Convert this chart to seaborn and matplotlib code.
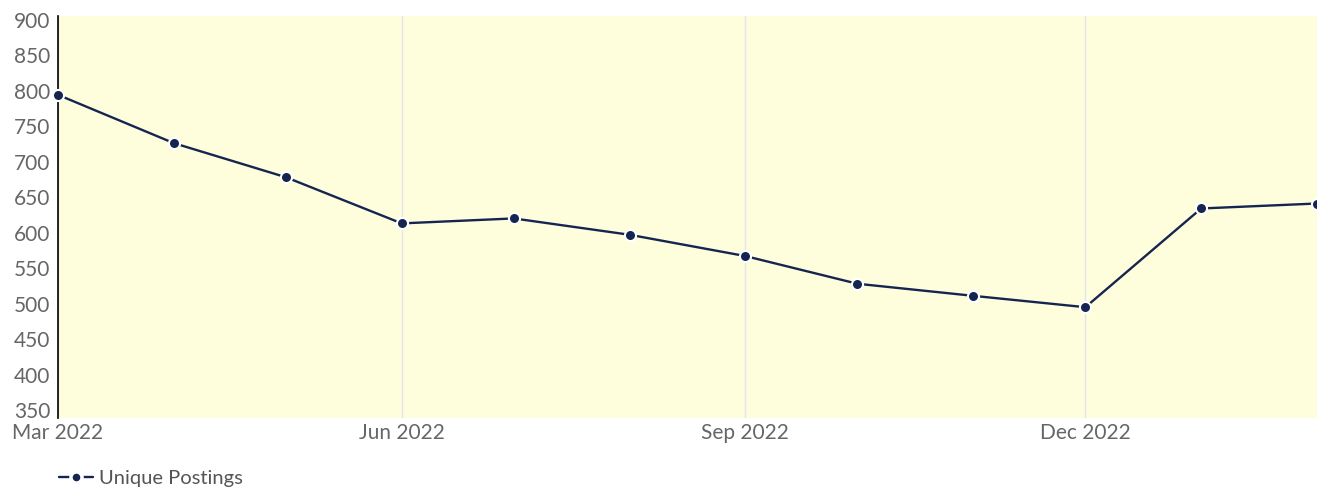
import matplotlib
matplotlib.use("Agg")
import matplotlib.pyplot as plt
import seaborn as sns
import pandas as pd

months = ["2022-03-01", "2022-04-01", "2022-05-01", "2022-06-01", "2022-07-01", "2022-08-01",
          "2022-09-01", "2022-10-01", "2022-11-01", "2022-12-01", "2023-01-01", "2023-02-01"]
unique_postings = [794, 726, 678, 613, 620, 597, 567, 528, 511, 495, 634, 641]
series_name = "Unique Postings"
y_ticks = [350, 400, 450, 500, 550, 600, 650, 700, 750, 800, 850, 900]
x_tick_dates = ["2022-03-01", "2022-06-01", "2022-09-01", "2022-12-01"]
x_tick_labels = ["Mar 2022", "Jun 2022", "Sep 2022", "Dec 2022"]

sns.set_theme(style="white")
plt.rcParams["font.family"] = ["Lato", "DejaVu Sans"]

df = pd.DataFrame({"date": pd.to_datetime(months), "value": unique_postings,
                   "series": series_name})

fig = plt.figure(figsize=(13.17, 4.94), dpi=100)
ax = fig.add_axes([58 / 1317, 76 / 494, 1 - 58 / 1317, 402 / 494])
ax.set_facecolor("#fefedd")

line_color = "#15254f"
sns.lineplot(data=df, x="date", y="value", hue="series", palette=[line_color],
             marker="o", markersize=8, markeredgecolor="white", markeredgewidth=1.5,
             linewidth=1.7, ax=ax, clip_on=False, zorder=5)

ax.set_xlim(pd.Timestamp(months[0]), pd.Timestamp(months[-1]))
ax.set_ylim(339, 905)
ax.set_yticks(y_ticks)
ax.set_xticks(pd.to_datetime(x_tick_dates))
ax.set_xticklabels(x_tick_labels)
ax.set_xlabel("")
ax.set_ylabel("")
ax.tick_params(axis="both", length=0, labelsize=15, colors="#666666")
ax.tick_params(axis="x", pad=3.5)
ax.tick_params(axis="y", pad=5.5)
ax.xaxis.grid(True, color="#e4e4ee", linewidth=1)
ax.yaxis.grid(False)
for s in ["top", "right", "bottom"]:
    ax.spines[s].set_visible(False)
ax.spines["left"].set_color("black")
ax.spines["left"].set_linewidth(1.2)

leg = ax.get_legend()
handles, labels = ax.get_legend_handles_labels()
if leg is not None:
    leg.remove()
for h in handles:
    h.set_markersize(8)
    h.set_markeredgewidth(2.5)
fig.legend(handles, labels, loc="center left", bbox_to_anchor=(51 / 1317, 1 - 478 / 494),
           frameon=False, fontsize=14.5, labelcolor="#555555", handlelength=1.7,
           handletextpad=0.3, borderaxespad=0)

fig.savefig("out.png", dpi=100)
